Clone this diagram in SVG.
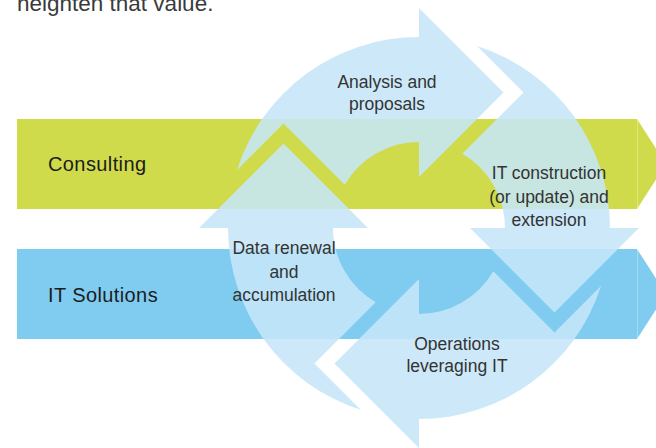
<svg xmlns="http://www.w3.org/2000/svg" xmlns:xlink="http://www.w3.org/1999/xlink" width="656" height="448" viewBox="0 0 656 448">
  <style>
    .band-label { font-family: "Liberation Sans", Arial, sans-serif; font-size: 20px; fill: #1c1c1c; letter-spacing: 0.4px; }
    .label { font-family: "Liberation Sans", Arial, sans-serif; font-size: 17.5px; fill: #333333; text-anchor: middle; }
    .intro { font-family: "Liberation Sans", Arial, sans-serif; font-size: 22.5px; fill: #3a3a3a; }
    .cycle { fill: #c5e6f8; fill-opacity: 0.87; }
    .seam { stroke: #ffffff; stroke-opacity: 0.3; stroke-width: 1; }
  </style>
  <defs>
    <path id="cyc" d="M 237.03 169.97 A 191 191 0 0 1 419 37 L 419 8 L 503.5 92.5 L 419 177 L 419 142 A 86 86 0 0 0 344.7 184.7 L 283.5 123.5 Z"/>
  </defs>
  <rect width="656" height="448" fill="#ffffff"/>
  <text class="intro" x="17" y="11">heighten that value.</text>

  <g id="consulting">
    <path d="M 17 119 H 637 L 666 164 L 637 209 H 17 Z" fill="#cfdb4b"/>
    <line class="seam" x1="637.5" y1="119" x2="637.5" y2="209"/>
    <text class="band-label" x="48" y="171">Consulting</text>
  </g>
  <g id="it-solutions">
    <path d="M 17 249 H 637 L 666 294 L 637 339 H 17 Z" fill="#7fccf0"/>
    <line class="seam" x1="637.5" y1="249" x2="637.5" y2="339"/>
    <text class="band-label" x="48" y="302">IT Solutions</text>
  </g>

  <g id="connectors">
    <g id="analysis-proposals">
      <use xlink:href="#cyc" href="#cyc" class="cycle"/>
      <text class="label" x="387" y="88">Analysis and</text>
      <text class="label" x="387" y="110">proposals</text>
    </g>
    <g id="it-construction">
      <use xlink:href="#cyc" href="#cyc" class="cycle" transform="rotate(90 419 228)"/>
      <text class="label" x="549" y="179">IT construction</text>
      <text class="label" x="549" y="203">(or update) and</text>
      <text class="label" x="549" y="226">extension</text>
    </g>
    <g id="operations">
      <use xlink:href="#cyc" href="#cyc" class="cycle" transform="rotate(180 419 228)"/>
      <text class="label" x="457" y="350">Operations</text>
      <text class="label" x="457" y="372">leveraging IT</text>
    </g>
    <g id="data-renewal">
      <use xlink:href="#cyc" href="#cyc" class="cycle" transform="rotate(270 419 228)"/>
      <text class="label" x="284" y="254">Data renewal</text>
      <text class="label" x="284" y="278">and</text>
      <text class="label" x="284" y="301">accumulation</text>
    </g>
  </g>
</svg>
